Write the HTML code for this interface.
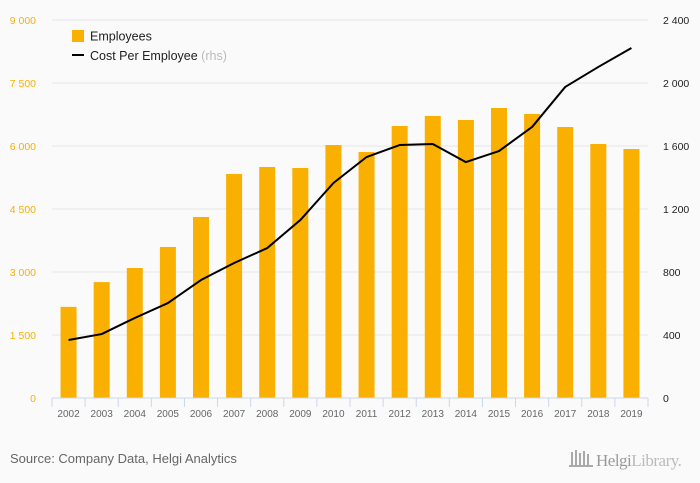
<!DOCTYPE html>
<html><head><meta charset="utf-8"><style>
body{margin:0;background:#fafafa;font-family:"Liberation Sans",sans-serif;}
svg{display:block}
</style></head><body>
<svg id="chart" width="700" height="483">
<rect width="700" height="483" fill="#fafafa"/>
<g id="grid"></g><g id="bars"></g><g id="axes"></g><g id="line"></g>
<g>
<rect x="72" y="30" width="12" height="12" fill="#f9b000"/>
<text x="90" y="40.5" font-size="12.5" fill="#222">Employees</text>
<line x1="72" y1="55" x2="84" y2="55" stroke="#000" stroke-width="2"/>
<text x="90" y="60" font-size="12.5" fill="#222">Cost Per Employee <tspan fill="#bbb">(rhs)</tspan></text>
</g>
<text x="10" y="463" font-size="13" fill="#666">Source: Company Data, Helgi Analytics</text>
<g>
<g fill="#aaa"><rect x="571" y="452" width="2" height="13"/><rect x="575" y="450" width="2" height="15"/><rect x="579" y="453" width="2" height="12"/><rect x="583" y="451" width="2" height="14"/><rect x="587" y="454" width="2" height="11"/><rect x="569" y="465" width="24" height="2"/></g>
<text x="596" y="466" font-size="17" fill="#999" font-family="Liberation Serif,serif" letter-spacing="-0.5">Helgi<tspan fill="#bbb">Library.</tspan></text>
</g>
</svg>
<script>
const years=["2002","2003","2004","2005","2006","2007","2008","2009","2010","2011","2012","2013","2014","2015","2016","2017","2018","2019"];
const employees=[2170,2760,3095,3595,4310,5333,5500,5476,6024,5857,6476,6714,6619,6905,6762,6452,6048,5929];
const costPerEmployee=[368,406,508,603,749,857,952,1130,1365,1530,1606,1613,1498,1568,1721,1975,2102,2222];
const leftTicks=[0,1500,3000,4500,6000,7500,9000];
const rightTicks=[0,400,800,1200,1600,2000,2400];
const NS="http://www.w3.org/2000/svg";
const L=52,R=648,T=20,B=398;
const bw=(R-L)/years.length;
const xc=i=>L+bw*(i+0.5);
const yl=v=>B-(v/9000)*(B-T);
const yr=v=>B-(v/2400)*(B-T);
function mk(tag,attrs,parent){const e=document.createElementNS(NS,tag);for(const k in attrs)e.setAttribute(k,attrs[k]);document.getElementById(parent).appendChild(e);return e;}
leftTicks.forEach((v,i)=>{
 if(v>0){const g=mk('line',{x1:L,x2:R,y1:yl(v),y2:yl(v),stroke:'#e6e6e6','stroke-width':1},'grid');
 
 }
 const t=mk('text',{x:36,y:yl(v)+4,'font-size':10.5,fill:'#f9b000','text-anchor':'end'},'axes');t.textContent=v===0?'0':v.toLocaleString('en').replace(',',' ');
 
 
});
rightTicks.forEach(v=>{
 const t=mk('text',{x:663,y:yr(v)+4,'font-size':10.5,fill:'#222'},'axes');t.textContent=v>=1000?v.toLocaleString('en').replace(',',' '):String(v);
 
 
});
years.forEach((y,i)=>{
 const b=mk('rect',{x:xc(i)-8,y:yl(employees[i]),width:16,height:B-yl(employees[i]),fill:'#f9b000'},'bars');
 
 
 const t=mk('text',{x:xc(i),y:417,'font-size':10,fill:'#666','text-anchor':'middle'},'axes');t.textContent=y;
 
 
});
for(let i=0;i<=years.length;i++){const tk=mk('line',{x1:L+bw*i,x2:L+bw*i,y1:B,y2:B+9,stroke:'#ccd6eb'},'axes');
 
 }
const ax=mk('line',{x1:L,x2:R,y1:B,y2:B,stroke:'#ccd6eb'},'axes');


const p=mk('polyline',{points:costPerEmployee.map((v,i)=>xc(i)+','+yr(v)).join(' '),fill:'none',stroke:'#000','stroke-width':2,'stroke-linejoin':'round'},'line');


</script>
</body></html>
